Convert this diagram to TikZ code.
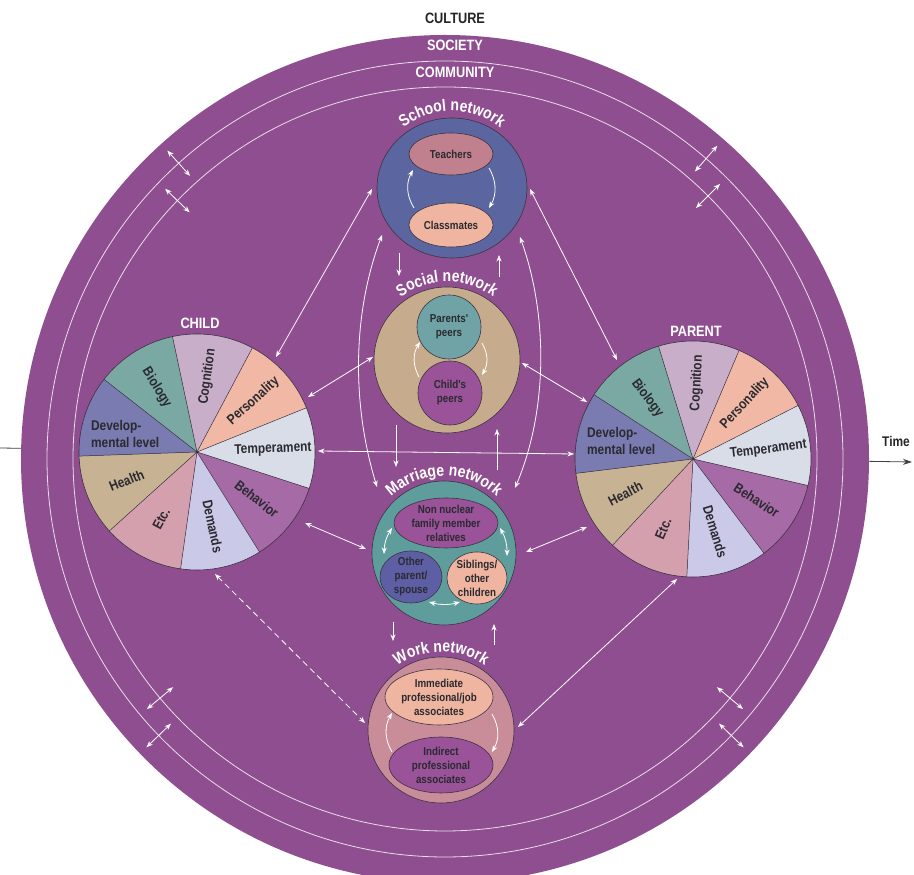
\documentclass[tikz,border=0pt]{standalone}
\usepackage{fontspec}
\setmainfont{Liberation Sans}
\newfontfamily\cf[FakeStretch=0.85]{Liberation Sans}
\usetikzlibrary{arrows.meta,calc,decorations.text}
\definecolor{bgp}{HTML}{8F4E90}
\definecolor{outl}{HTML}{3B3340}
\definecolor{labg}{HTML}{2A2A30}
\definecolor{cBio}{HTML}{7AA8A2}
\definecolor{cCog}{HTML}{C9AEC9}
\definecolor{cPer}{HTML}{F2B8A6}
\definecolor{cTem}{HTML}{D8DDE8}
\definecolor{cBeh}{HTML}{A66AA6}
\definecolor{cDem}{HTML}{CBC9E8}
\definecolor{cEtc}{HTML}{D4A0AE}
\definecolor{cHea}{HTML}{C8B294}
\definecolor{cDev}{HTML}{7A7BB0}
\definecolor{schoolc}{HTML}{5B66A0}
\definecolor{teachc}{HTML}{C0808E}
\definecolor{peachc}{HTML}{F0B5A0}
\definecolor{socialc}{HTML}{C6AB8C}
\definecolor{ppeerc}{HTML}{6FA3A6}
\definecolor{purpc}{HTML}{9A5299}
\definecolor{marrc}{HTML}{5F9D9D}
\definecolor{spousec}{HTML}{5D5EA3}
\definecolor{workc}{HTML}{C98D99}
\definecolor{ringc}{HTML}{EADCEA}
\newcommand\titlef{\cf\bfseries\fontsize{16.5}{17}\selectfont\color{white}}
\tikzset{
  >={Stealth[length=6.5pt,width=5pt]},
  warr/.style={draw=white, line width=0.8pt, <->},
  warrone/.style={draw=white, line width=0.8pt, ->},
  ringl/.style={draw=ringc, line width=0.8pt},
  netl/.style={draw=outl, line width=0.6pt},
  slab/.style={font=\cf\bfseries\fontsize{14}{17}\selectfont, text=labg, inner sep=0pt},
  ilab/.style={font=\cf\bfseries\fontsize{11.5}{14}\selectfont, text=labg, align=center, inner sep=0pt},
  wlab/.style={font=\cf\bfseries\fontsize{15}{17}\selectfont, text=white, inner sep=0pt},
}
\newcommand\mypie[3]{%
  \foreach \pc [count=\pi from 0] in {cCog,cPer,cTem,cBeh,cDem,cEtc,cHea,cDev,cBio}{%
    \pgfmathsetmacro\pA{#2-40*\pi}%
    \fill[\pc] (#1) -- ($(#1)+(\pA:118)$) arc[start angle=\pA, delta angle=-40, radius=118] -- cycle;
  }
  \foreach \pi in {0,...,8}{%
    \pgfmathsetmacro\pA{#2-40*\pi}%
    \draw[outl, line width=0.5pt] (#1) -- ($(#1)+(\pA:118)$);
  }
  \draw[outl, line width=0.6pt] (#1) circle[radius=118];
  \fill[outl] (#1) circle[radius=1.6];
  \foreach \pk/\plab in {0/Cognition,1/Personality,2/Temperament,3/Behavior,4/Demands,5/Etc.,6/Health,8/Biology}{%
    \pgfmathsetmacro\pM{#2-40*\pk-20}%
    \pgfmathsetmacro\pR{ifthenelse(\pM<-90,\pM+180,\pM)}%
    \node[slab, rotate=\pR] (#3-\pk) at ($(#1)+(\pM:76)$) {\plab};
  }
  \node[slab, align=left] (#3-7) at ($(#1)+(166:74)$) {Develop-\\mental level};
}
\newcommand\nettitle[3]{%
  \path[decorate, decoration={text along path, text align=center, text={|\titlef|#3}}]
    ($(#1)+(160:#2)$) arc[start angle=160, end angle=20, radius=#2];
}
\begin{document}
\begin{tikzpicture}[x=1pt,y=1pt]
\useasboundingbox (0,0) rectangle (914,875);
\clip (0,0) rectangle (914,875);
\fill[white] (0,0) rectangle (914,875);
% time axis
\coordinate (tL) at (0,427);
\coordinate (tR) at (912,413);
\draw[line width=0.8pt, draw=black!75, -{Stealth[length=9pt,width=6pt]}] (tL) -- (tR);
\node[font=\cf\bfseries\fontsize{14}{15}\selectfont, text=black!85, inner sep=0pt] (time) at (896,433) {Time};
% big circle
\coordinate (C) at (445,416);
\fill[bgp] (C) circle[radius=424];
\draw[ringl] (C) circle[radius=398];
\draw[ringl] (C) circle[radius=372];
\node[font=\cf\bfseries\fontsize{15}{17}\selectfont, text=black!85, inner sep=0pt] (culture) at (455,857) {CULTURE};
\node[wlab] (society) at (455,830) {SOCIETY};
\node[wlab] (community) at (455,803) {COMMUNITY};
% ring crossing arrows
\foreach \ang/\rad [count=\n] in {132/398,136/372,49/398,45/372,224/398,220/372,-44/398,-40/372}{
  \coordinate (ra\n) at ($(C)+(\ang:\rad-17)$);
  \coordinate (rb\n) at ($(C)+(\ang:\rad+17)$);
  \draw[warr] (ra\n) -- (rb\n);
}
% pies
\coordinate (child) at (197,423);
\coordinate (parent) at (693,416);
\mypie{child}{102}{ch}
\mypie{parent}{107}{pa}
\node[wlab] (childlab) at (200,552) {CHILD};
\node[wlab] (parentlab) at (696,544) {PARENT};
% connector end points
\coordinate (c1a) at (276,518); \coordinate (c1b) at (372,686);
\coordinate (c2a) at (617,515); \coordinate (c2b) at (530,686);
\coordinate (c3a) at (308,478); \coordinate (c3b) at (373,518);
\coordinate (c4a) at (587,473); \coordinate (c4b) at (522,512);
\coordinate (c5a) at (318,424); \coordinate (c5b) at (574,421);
\coordinate (c6a) at (305,352); \coordinate (c6b) at (366,326);
\coordinate (c7a) at (587,348); \coordinate (c7b) at (526,323);
\coordinate (c8a) at (215,301); \coordinate (c8b) at (365,152);
\coordinate (c9a) at (677,296); \coordinate (c9b) at (518,148);
\foreach \n in {1,2,3,4,5,6,7,9}{\draw[warr] (c\n a) -- (c\n b);}
\draw[warr, dash pattern=on 6pt off 4pt] (c8a) -- (c8b);
% long arcs school - marriage
\coordinate (la1) at (382,640); \coordinate (la2) at (377,388);
\coordinate (lb1) at (520,638); \coordinate (lb2) at (515,387);
\draw[warr] (la1) .. controls (352,560) and (352,470) .. (la2);
\draw[warr] (lb1) .. controls (548,560) and (548,465) .. (lb2);
% small vertical arrows between networks
\coordinate (v1a) at (399,622); \coordinate (v1b) at (399,599);
\coordinate (v2a) at (499,598); \coordinate (v2b) at (499,620);
\coordinate (v3a) at (396,450); \coordinate (v3b) at (396,408);
\coordinate (v4a) at (497,405); \coordinate (v4b) at (497,446);
\coordinate (v5a) at (393,253); \coordinate (v5b) at (393,234);
\coordinate (v6a) at (494,230); \coordinate (v6b) at (494,251);
\foreach \n in {1,...,6}{\draw[warrone] (v\n a) -- (v\n b);}
% school network
\coordinate (school) at (452,687);
\filldraw[netl, fill=schoolc] (school) ellipse[x radius=75, y radius=70];
\filldraw[netl, fill=teachc] (451,721) ellipse[x radius=42, y radius=21];
\filldraw[netl, fill=peachc] (451,650) ellipse[x radius=42, y radius=22];
\node[ilab] (teachers) at (451,721) {Teachers};
\node[ilab] (classmates) at (451,650) {Classmates};
\coordinate (s1) at (414,667); \coordinate (s2) at (413,705);
\coordinate (s3) at (489,707); \coordinate (s4) at (489,667);
\draw[warrone] (s1) to[bend left=30] (s2);
\draw[warrone] (s3) to[bend left=30] (s4);
\nettitle{school}{77}{School network}
% social network
\coordinate (social) at (447,515);
\filldraw[netl, fill=socialc] (social) circle[radius=73];
\filldraw[netl, fill=ppeerc] (449,548) circle[radius=32];
\filldraw[netl, fill=purpc] (450,482) circle[radius=32];
\node[ilab] (ppeers) at (449,548) {Parents'\\peers};
\node[ilab] (cpeers) at (450,482) {Child's\\peers};
\coordinate (q1) at (419,498); \coordinate (q2) at (420,533);
\coordinate (q3) at (482,532); \coordinate (q4) at (482,500);
\draw[warrone] (q1) to[bend left=30] (q2);
\draw[warrone] (q3) to[bend left=30] (q4);
\nettitle{social}{78}{Social network}
% marriage network
\coordinate (marriage) at (444,322);
\filldraw[netl, fill=marrc] (marriage) circle[radius=72];
\filldraw[netl, fill=purpc] (446,352) ellipse[x radius=52, y radius=25];
\filldraw[netl, fill=spousec] (411,298) ellipse[x radius=31, y radius=26];
\filldraw[netl, fill=peachc] (477,297) ellipse[x radius=30, y radius=26];
\node[ilab] (nonnuc) at (446,352) {Non nuclear\\family member\\relatives};
\node[ilab] (spouse) at (411,298) {Other\\parent/\\spouse};
\node[ilab] (sibl) at (477,297) {Siblings/\\other\\children};
\coordinate (m1) at (392,347); \coordinate (m2) at (384,321);
\coordinate (m3) at (500,347); \coordinate (m4) at (507,319);
\coordinate (m5) at (429,273); \coordinate (m6) at (460,273);
\draw[warr] (m1) to[bend right=15] (m2);
\draw[warr] (m3) to[bend left=15] (m4);
\draw[warr] (m5) to[bend right=15] (m6);
\nettitle{marriage}{77}{Marriage network}
% work network
\coordinate (work) at (441,145);
\filldraw[netl, fill=workc] (work) circle[radius=73];
\filldraw[netl, fill=peachc] (439,178) ellipse[x radius=54, y radius=28];
\filldraw[netl, fill=purpc] (441,110) ellipse[x radius=52, y radius=28];
\node[ilab] (immed) at (439,178) {Immediate\\professional/job\\associates};
\node[ilab] (indir) at (441,110) {Indirect\\professional\\associates};
\coordinate (w1) at (392,123); \coordinate (w2) at (392,162);
\coordinate (w3) at (492,161); \coordinate (w4) at (492,123);
\draw[warrone] (w1) to[bend left=30] (w2);
\draw[warrone] (w3) to[bend left=30] (w4);
\nettitle{work}{78}{Work network}
\end{tikzpicture}
\end{document}
